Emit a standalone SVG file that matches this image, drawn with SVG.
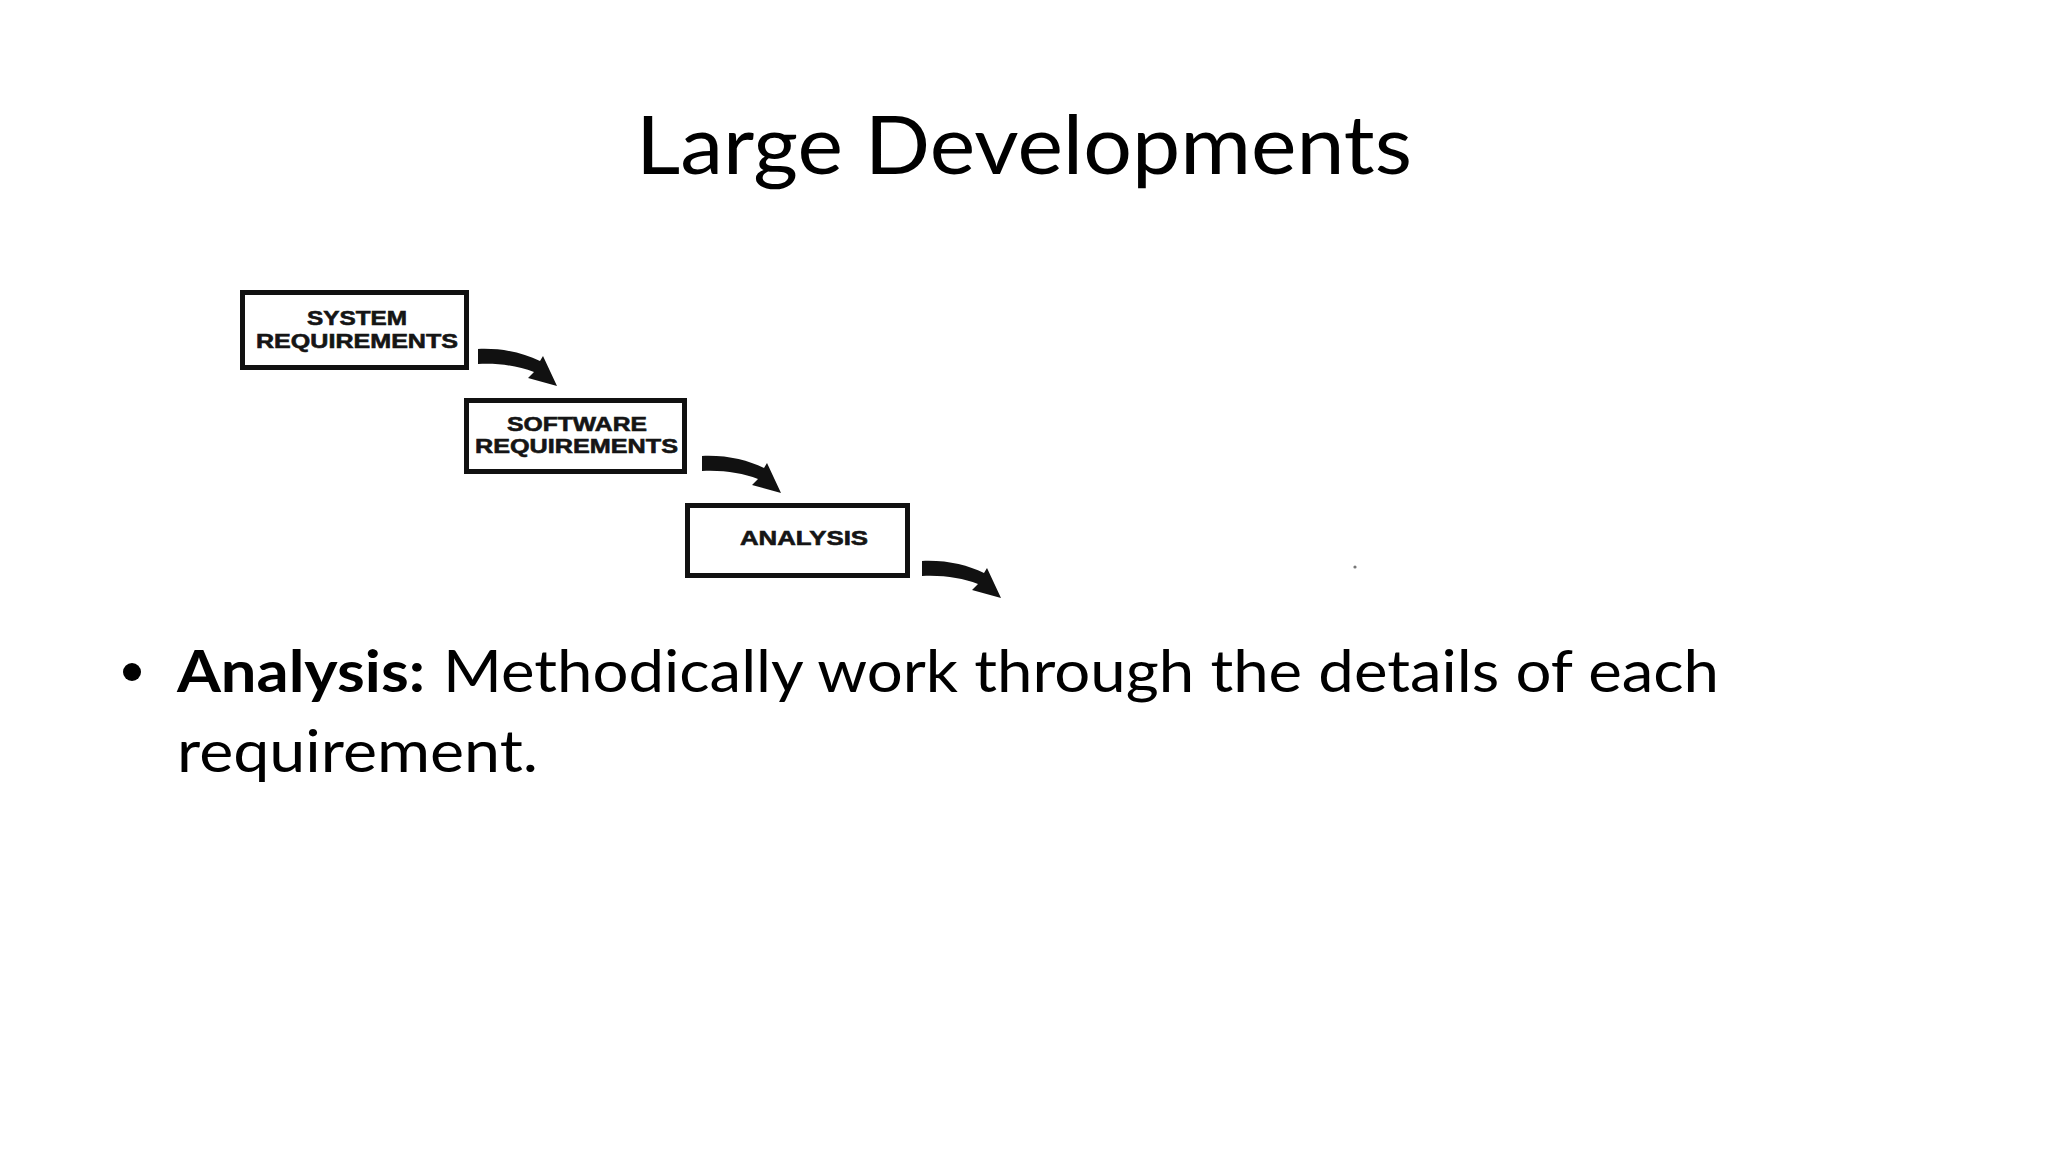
<svg xmlns="http://www.w3.org/2000/svg" width="2048" height="1152" viewBox="0 0 2048 1152">
  <defs>
    <style>
      .box { fill: #ffffff; stroke: #111111; stroke-width: 5; }
      .lbl { font-family: "Liberation Sans", Arial, sans-serif; font-weight: bold; font-size: 20px; fill: #151515; stroke: #151515; stroke-width: 0.6; text-anchor: middle; }
      .title { font-family: Lato, "Open Sans", sans-serif; font-size: 82px; fill: #000000; }
      .body { font-family: Lato, "Open Sans", sans-serif; font-size: 58px; fill: #000000; }
      .arrow { fill: #111111; }
    </style>
    <path id="arw" d="M0,-1 C25,-2 45,3 62,11 L65,6 L79,36 L50,28 L56,22 C40,16 22,13 0,14 Z"/>
  </defs>
  <rect width="2048" height="1152" fill="#ffffff"/>

  <text class="title" x="636" y="174" textLength="776" lengthAdjust="spacingAndGlyphs">Large Developments</text>

  <g id="node-system-requirements">
    <rect class="box" x="242.5" y="292.5" width="224" height="75"/>
    <text class="lbl" x="357" y="325" textLength="100" lengthAdjust="spacingAndGlyphs">SYSTEM</text>
    <text class="lbl" x="357" y="348" textLength="202" lengthAdjust="spacingAndGlyphs">REQUIREMENTS</text>
  </g>
  <g id="node-software-requirements">
    <rect class="box" x="466.5" y="400.5" width="218" height="71"/>
    <text class="lbl" x="577" y="431" textLength="140" lengthAdjust="spacingAndGlyphs">SOFTWARE</text>
    <text class="lbl" x="576.5" y="453" textLength="203" lengthAdjust="spacingAndGlyphs">REQUIREMENTS</text>
  </g>
  <g id="node-analysis">
    <rect class="box" x="687.5" y="505.5" width="220" height="70"/>
    <text class="lbl" x="804" y="545" textLength="128" lengthAdjust="spacingAndGlyphs">ANALYSIS</text>
  </g>

  <g id="connectors" class="arrow">
    <use href="#arw" x="478" y="350"/>
    <use href="#arw" x="702" y="457"/>
    <use href="#arw" x="922" y="562"/>
  </g>

  <circle cx="1355" cy="567" r="1.6" fill="#777777"/>

  <g id="bullet">
    <circle cx="132" cy="672" r="9" fill="#000000"/>
    <text class="body" x="177" y="692" font-weight="bold" textLength="248" lengthAdjust="spacingAndGlyphs">Analysis:</text>
    <text class="body" x="443" y="692" textLength="1276" lengthAdjust="spacingAndGlyphs">Methodically work through the details of each</text>
    <text class="body" x="177" y="772" textLength="361" lengthAdjust="spacingAndGlyphs">requirement.</text>
  </g>
</svg>
